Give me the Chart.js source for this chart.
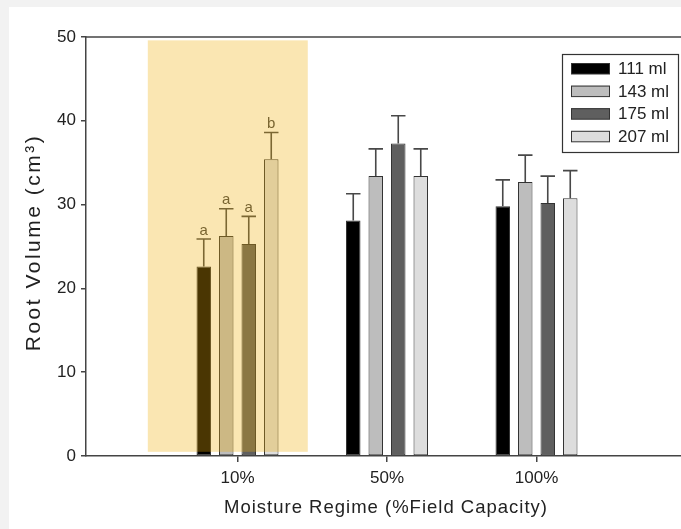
<!DOCTYPE html>
<html>
<head>
<meta charset="utf-8">
<script src="https://cdn.jsdelivr.net/npm/chart.js@4.4.0/dist/chart.umd.min.js"></script>
<style>
  html, body { margin: 0; padding: 0; background: #f2f2f2; overflow: hidden; width: 681px; height: 529px; }
  #chart { position: absolute; left: 9px; top: 7px; background: #fff; }
</style>
</head>
<body>
<canvas id="chart" width="690" height="522"></canvas>
<script>
// moisture regimes on the x axis
const categories = ['10%', '50%', '100%'];
const seriesNames = ['111 ml', '143 ml', '175 ml', '207 ml'];

// mean root volume (cm3) and error bar size, one value per regime
const vol111 = [22.6, 28.1, 29.8];
const vol143 = [26.25, 33.4, 32.7];
const vol175 = [25.3, 37.3, 30.2];
const vol207 = [35.4, 33.4, 30.75];
const err111 = [3.3, 3.2, 3.15];
const err143 = [3.25, 3.25, 3.2];
const err175 = [3.3, 3.3, 3.2];
const err207 = [3.2, 3.25, 3.3];

// significance letters (only the 10% regime has them)
const letters111 = ['a', '', ''];
const letters143 = ['a', '', ''];
const letters175 = ['a', '', ''];
const letters207 = ['b', '', ''];

const yTicks = [0, 10, 20, 30, 40, 50];

// highlighted regime (shaded band, in category units around its slot)
const highlightCategory = '10%';
const highlightFrom = -0.6;
const highlightTo = 0.47;
const highlightTop = 49.6;
const highlightBottom = 0.5;

const fills = ['#000000', '#bdbdbd', '#5f5f5f', '#dddddd'];
const font = "'Liberation Sans', Arial, sans-serif";

const values = [vol111, vol143, vol175, vol207];
const errors = [err111, err143, err175, err207];
const letters = [letters111, letters143, letters175, letters207];

// regimes sit at 1, 2, 3 on the x axis
const slot = i => i + 1;

const extras = {
  id: 'extras',
  afterDatasetsDraw(chart) {
    const { ctx } = chart;
    const y = chart.scales.y;
    const x = chart.scales.x;

    // error bars and letters
    chart.data.datasets.forEach((ds, di) => {
      const meta = chart.getDatasetMeta(di);
      meta.data.forEach((bar, k) => {
        const top = y.getPixelForValue(values[di][k] + errors[di][k]);
        const half = bar.width / 2;
        ctx.save();
        ctx.strokeStyle = '#484848';
        ctx.lineWidth = 1.6;
        ctx.beginPath();
        ctx.moveTo(bar.x, bar.y);
        ctx.lineTo(bar.x, top);
        ctx.moveTo(bar.x - half, top);
        ctx.lineTo(bar.x + half, top);
        ctx.stroke();
        const l = letters[di][k];
        if (l) {
          ctx.fillStyle = '#444';
          ctx.font = '15px ' + font;
          ctx.textAlign = 'center';
          ctx.textBaseline = 'bottom';
          ctx.fillText(l, bar.x, top - 1);
        }
        ctx.restore();
      });
    });

    // yellow highlight over the 10% group
    const c = slot(categories.indexOf(highlightCategory));
    const l = x.getPixelForValue(c + highlightFrom);
    const r = x.getPixelForValue(c + highlightTo);
    const t = y.getPixelForValue(highlightTop);
    const b = y.getPixelForValue(highlightBottom);
    ctx.save();
    ctx.fillStyle = 'rgba(240,175,5,0.31)';
    ctx.fillRect(l, t, r - l, b - t);
    ctx.restore();
  },
  afterDraw(chart) {
    const { ctx, chartArea } = chart;
    ctx.save();
    // top frame line
    ctx.strokeStyle = '#444';
    ctx.lineWidth = 1.5;
    ctx.beginPath();
    ctx.moveTo(chartArea.left, chartArea.top);
    ctx.lineTo(chartArea.right + 20, chartArea.top);
    ctx.stroke();

    // axis titles (a little spaced out like the original)
    ctx.fillStyle = '#222';
    ctx.textAlign = 'center';
    ctx.textBaseline = 'middle';
    ctx.font = '18.5px ' + font;
    ctx.letterSpacing = '1px';
    ctx.fillText('Moisture Regime (%Field Capacity)', (chartArea.left + chartArea.right) / 2 + 1, 501);
    ctx.save();
    ctx.translate(25, (chartArea.top + chartArea.bottom) / 2 - 4);
    ctx.rotate(-Math.PI / 2);
    ctx.font = '21px ' + font;
    ctx.letterSpacing = '2.5px';
    ctx.fillText('Root Volume (cm³)', 0, 0);
    ctx.restore();
    ctx.letterSpacing = '0px';

    // legend box
    const lx = 553, ly = 47, lw = 116, lh = 98;
    ctx.fillStyle = '#fff';
    ctx.fillRect(lx, ly, lw, lh);
    ctx.strokeStyle = '#333';
    ctx.lineWidth = 1.2;
    ctx.strokeRect(lx + 0.5, ly + 0.5, lw, lh);
    chart.data.datasets.forEach((ds, i) => {
      const cy = 61.5 + i * 22.6;
      ctx.fillStyle = ds.backgroundColor;
      ctx.fillRect(562, cy - 5.5, 39, 11);
      ctx.strokeStyle = '#333';
      ctx.lineWidth = 1;
      ctx.strokeRect(562.5, cy - 5, 38, 10.5);
      ctx.fillStyle = '#222';
      ctx.font = '17px ' + font;
      ctx.textAlign = 'left';
      ctx.textBaseline = 'middle';
      ctx.fillText(ds.label, 609, cy + 1);
    });
    ctx.restore();
  }
};

new Chart(document.getElementById('chart'), {
  type: 'bar',
  data: {
    datasets: seriesNames.map((name, i) => ({
      label: name,
      data: values[i].map((v, k) => ({ x: slot(k), y: v })),
      backgroundColor: fills[i],
      borderColor: '#333',
      borderWidth: 1,
      borderSkipped: false,
      categoryPercentage: 0.602,
      barPercentage: 0.644
    }))
  },
  options: {
    responsive: false,
    animation: false,
    devicePixelRatio: 1,
    layout: { padding: { top: 30, right: 15, left: 0, bottom: 0 } },
    plugins: { legend: { display: false }, tooltip: { enabled: false } },
    scales: {
      x: {
        type: 'linear',
        min: -0.0134,
        max: 3.9866,
        offset: false,
        afterBuildTicks: s => { s.ticks = categories.map((c, k) => ({ value: slot(k) })); },
        grid: { offset: false, drawOnChartArea: false, drawTicks: true, tickLength: 6, color: '#444', lineWidth: 1.5 },
        border: { color: '#444', width: 1.5 },
        ticks: { color: '#222', font: { family: font, size: 17 }, padding: 6, maxRotation: 0, autoSkip: false,
                 callback: v => categories[v - 1] },
        afterFit: s => { s.height = 73; }
      },
      y: {
        min: 0,
        max: 50,
        afterBuildTicks: s => { s.ticks = yTicks.map(v => ({ value: v })); },
        grid: { drawOnChartArea: false, drawTicks: true, tickLength: 5, color: '#444', lineWidth: 1.5 },
        border: { color: '#444', width: 1.5 },
        ticks: { color: '#222', font: { family: font, size: 17 }, padding: 5 },
        afterFit: s => { s.width = 77; }
      }
    }
  },
  plugins: [extras]
});
</script>
</body>
</html>
